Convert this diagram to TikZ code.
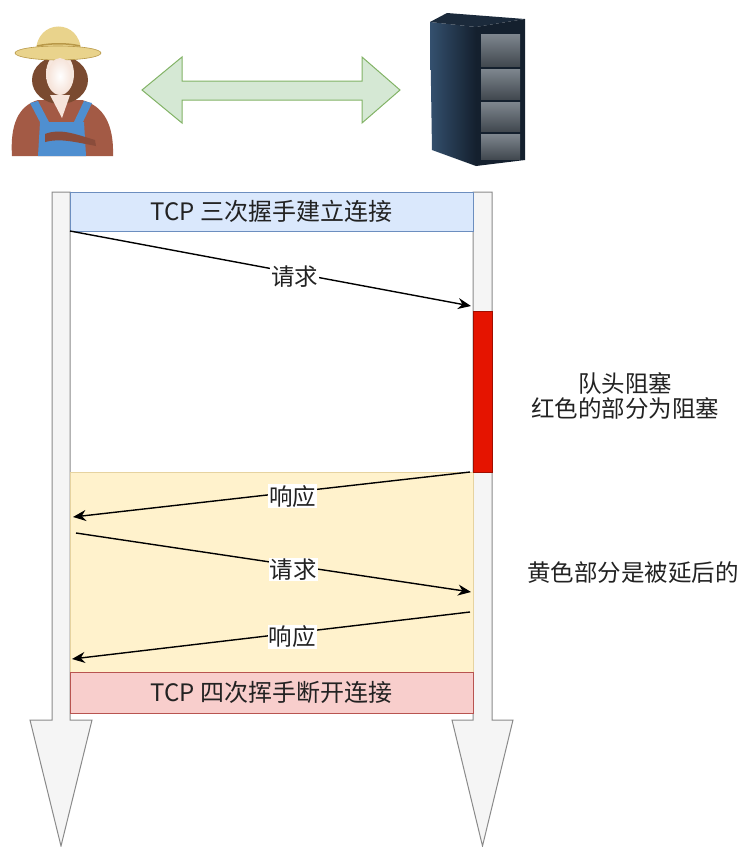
\documentclass[tikz,border=0pt]{standalone}
\usepackage{fontspec}
\setmainfont{Noto Sans CJK SC}
\usetikzlibrary{arrows.meta}
\definecolor{lanefill}{HTML}{F5F5F5}
\definecolor{laneline}{HTML}{8A8A8A}
\definecolor{bluefill}{HTML}{DAE8FC}
\definecolor{blueline}{HTML}{6C8EBF}
\definecolor{yelfill}{HTML}{FFF2CC}
\definecolor{yelline}{HTML}{E6D3A0}
\definecolor{pinkfill}{HTML}{F8CECC}
\definecolor{pinkline}{HTML}{B85450}
\definecolor{blockred}{HTML}{E51400}
\definecolor{greenfill}{HTML}{D5E8D4}
\definecolor{greenline}{HTML}{82B366}
\definecolor{txt}{HTML}{222222}
\definecolor{straw}{HTML}{E9D38C}
\definecolor{strawdark}{HTML}{B89848}
\definecolor{hair}{HTML}{7A4A30}
\definecolor{skin}{HTML}{F6E4DA}
\definecolor{shirt}{HTML}{A35A45}
\definecolor{denim}{HTML}{4F8FD0}
\definecolor{rackdark}{HTML}{14202E}
\definecolor{rackmid}{HTML}{34506E}
\definecolor{slot}{HTML}{5E6872}
\tikzset{
  band/.style={draw, line width=0.8pt, minimum width=403pt, minimum height=39pt,
    inner sep=0pt, font=\fontsize{24}{28}\selectfont, text=txt},
  msg/.style={line width=1.4pt, draw=black, -{Stealth[length=13pt,width=11pt]}},
  msglabel/.style={fill=white, inner sep=1pt, yshift=-4pt,
    font=\fontsize{23.5}{27}\selectfont, text=txt},
  note/.style={align=center, font=\fontsize{23.5}{25}\selectfont, text=txt},
  lane/.style={fill=lanefill, draw=laneline, line width=1pt, line join=miter},
}
\begin{document}
\begin{tikzpicture}[x=1pt,y=-1pt]
\useasboundingbox (0,0) rectangle (744,847);

% ---- client figure ----
\fill[shirt] (12,156) .. controls (10,125) and (18,106) .. (38,100)
  -- (82,100) .. controls (104,106) and (114,125) .. (113,156) -- cycle;
\fill[hair] (60,80) ellipse [x radius=28pt, y radius=24pt];
\fill[skin] (50,95) -- (70,95) -- (62,118) -- cycle;
\shade[inner color=white, outer color=skin] (60,74) ellipse [x radius=14pt, y radius=21pt];
\fill[denim] (40,122) -- (84,122) -- (86,156) -- (38,156) -- cycle;
\fill[denim] (30,103) -- (38,101) -- (50,124) -- (42,126) -- cycle;
\fill[denim] (92,103) -- (84,101) -- (73,124) -- (81,126) -- cycle;
\fill[shirt!85!black] (45,134) .. controls (60,128) and (75,134) .. (95,140)
  -- (96,146) .. controls (75,142) and (60,138) .. (45,142) -- cycle;
\fill[straw] (36,52) .. controls (36,18) and (81,18) .. (81,52) -- cycle;
\draw[strawdark, line width=1.5pt] (37,46) .. controls (50,43) and (68,43) .. (80,46);
\fill[straw, draw=strawdark, line width=0.6pt] (58,53) ellipse [x radius=43pt, y radius=7pt];
\fill[straw] (37,50) .. controls (50,47) and (68,47) .. (80,50) -- (80,53) -- (37,53) -- cycle;
\shade[inner color=white, outer color=skin] (60,76) ellipse [x radius=12pt, y radius=18pt];

% ---- server rack ----
\shade[left color=rackmid, right color=rackdark] (430,22) -- (476,27) -- (476,166) -- (432,150) -- cycle;
\fill[rackdark!80!rackmid] (430,22) -- (447,13) -- (525,19) -- (476,27) -- cycle;
\fill[rackdark] (476,27) -- (525,19) -- (525,160) -- (476,166) -- cycle;
\foreach \ya/\yb in {34/66, 69/99, 102/131, 134/159}
  \shade[top color=slot!80!white, bottom color=slot!70!black]
    (481,\ya) rectangle (520,\yb);

% ---- link between both ends ----
\fill[greenfill, draw=greenline, line width=1pt]
  (142,90) -- (182,57) -- (182,81) -- (362,81) -- (362,57) -- (400,90)
  -- (362,123) -- (362,100) -- (182,100) -- (182,123) -- cycle;

% ---- life lines ----
\path[lane] (52,192) -- (70,192) -- (70,720) -- (92,720) -- (61,846)
  -- (30,720) -- (52,720) -- cycle;
\path[lane] (473,192) -- (492,192) -- (492,720) -- (513,720) -- (482.5,846)
  -- (452,720) -- (473,720) -- cycle;

% ---- phases ----
\node[band, fill=bluefill, draw=blueline] (open) at (271.5,211.5) {TCP 三次握手建立连接};
\node[draw=yelline, fill=yelfill, line width=0.8pt, minimum width=403pt,
  minimum height=200pt, inner sep=0pt] (late) at (271.5,572) {};
\node[band, fill=pinkfill, draw=pinkline, minimum height=41pt] (close) at (271.5,692.5) {TCP 四次挥手断开连接};
\node[fill=blockred, draw=blockred!70!black, line width=0.6pt, minimum width=19pt,
  minimum height=161pt, inner sep=0pt] (block) at (482.5,391.5) {};

% ---- messages ----
\coordinate (c1) at (70,231);   \coordinate (s1) at (471,306);
\coordinate (s2) at (470,472);  \coordinate (c2) at (73,517);
\coordinate (c3) at (76,533);   \coordinate (s3) at (471,592);
\coordinate (s4) at (470,612);  \coordinate (c4) at (72,659);
\draw[msg] (c1) -- node[msglabel, pos=0.56] {请求} (s1);
\draw[msg] (s2) -- node[msglabel, pos=0.447] {响应} (c2);
\draw[msg] (c3) -- node[msglabel, pos=0.55] {请求} (s3);
\draw[msg] (s4) -- node[msglabel, pos=0.447] {响应} (c4);

% ---- notes ----
\node[note] (hol) at (625,396) {队头阻塞\\红色的部分为阻塞};
\node[note] (delay) at (633,573) {黄色部分是被延后的};
\end{tikzpicture}
\end{document}
